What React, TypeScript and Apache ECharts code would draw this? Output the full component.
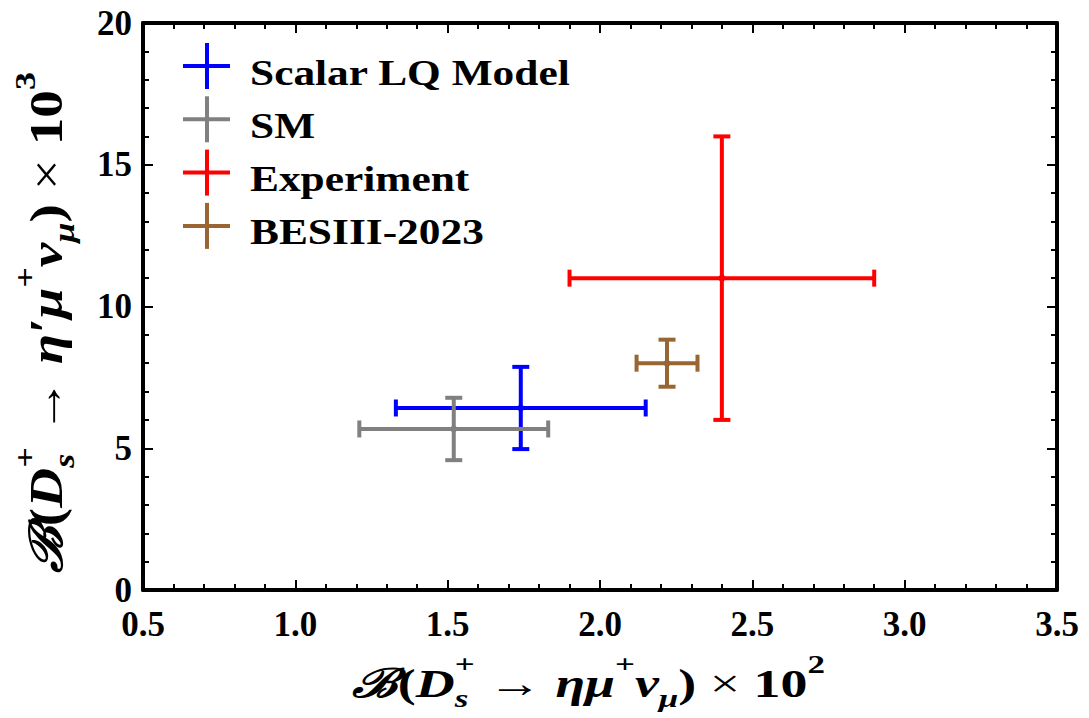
import React, { useEffect, useRef } from "react";
import * as echarts from "echarts";

// Series: name, central values and symmetric errors
const SERIES_NAMES = ["Scalar LQ Model", "SM", "Experiment", "BESIII-2023"];
const SERIES_COLORS = ["#0000ff", "#808080", "#ff0000", "#996633"];
const X_CENTER = [1.74, 1.52, 2.4, 2.22];
const X_ERROR = [0.41, 0.31, 0.5, 0.1];
const Y_CENTER = [6.42, 5.68, 11.0, 8.0];
const Y_ERROR = [1.45, 1.1, 5.0, 0.83];

// Axis ranges and tick spacing
const X_RANGE = [0.5, 3.5];
const X_STEP = 0.5;
const Y_RANGE = [0, 20];
const Y_STEP = 5;

const FAMILY = '"Liberation Serif", "Times New Roman", "DejaVu Serif", serif';

type Piece = {
  t: string;
  it?: boolean;
  w?: string;
  sup?: boolean;
  sub?: boolean;
  stack?: boolean;
};

const X_TITLE: Piece[] = [
  { t: "ℬ", it: true },
  { t: "(" },
  { t: "D", it: true },
  { t: "+", sup: true },
  { t: "s", it: true, sub: true, stack: true },
  { t: " → ", w: "normal" },
  { t: "ημ", it: true },
  { t: "+", sup: true },
  { t: "ν", it: true },
  { t: "μ", it: true, sub: true },
  { t: ") " },
  { t: "×", w: "normal" },
  { t: " 10" },
  { t: "2", sup: true },
];

const Y_TITLE: Piece[] = [
  { t: "ℬ", it: true },
  { t: "(" },
  { t: "D", it: true },
  { t: "+", sup: true },
  { t: "s", it: true, sub: true, stack: true },
  { t: " → ", w: "normal" },
  { t: "η′μ", it: true },
  { t: "+", sup: true },
  { t: "ν", it: true },
  { t: "μ", it: true, sub: true },
  { t: ") " },
  { t: "×", w: "normal" },
  { t: " 10" },
  { t: "3", sup: true },
];

// Lay out a formula as a run of text pieces at main font size m
function buildFormula(pieces: Piece[], m: number) {
  const ctx = document.createElement("canvas").getContext("2d")!;
  const small = Math.round(m * 0.66);
  const children: any[] = [];
  let cursor = 0;
  let lastStart = 0;
  let lastW = 0;
  for (const p of pieces) {
    const size = p.sup || p.sub ? small : m;
    const weight = p.w || "bold";
    ctx.font = `${p.it ? "italic " : ""}${weight} ${size}px ${FAMILY}`;
    const w = ctx.measureText(p.t).width;
    let x = cursor;
    if (p.stack) {
      x = lastStart;
      cursor = lastStart + Math.max(lastW, w);
    } else {
      cursor += w;
    }
    lastStart = x;
    lastW = w;
    const dy = p.sup ? -0.48 * m : p.sub ? 0.37 * m : 0;
    children.push({
      type: "text",
      x,
      y: dy,
      style: {
        text: p.t,
        fontFamily: FAMILY,
        fontSize: size,
        fontWeight: weight,
        fontStyle: p.it ? "italic" : "normal",
        fill: "#000",
        verticalAlign: "middle",
        align: "left",
      },
    });
  }
  return { children, width: cursor };
}

const axisCommon = {
  type: "value" as const,
  splitLine: { show: false },
  axisLine: { show: true, onZero: false, lineStyle: { color: "#000", width: 4 } },
  axisTick: { show: true, inside: true, length: 10, lineStyle: { color: "#000", width: 2 } },
  minorTick: { show: true, splitNumber: 5, length: 6, lineStyle: { color: "#000", width: 2 } },
};

const labelStyle = {
  fontFamily: FAMILY,
  fontSize: 35,
  lineHeight: 24,
  fontWeight: "bold" as const,
  color: "#000",
};

export default function App() {
  const ref = useRef<HTMLDivElement>(null);

  useEffect(() => {
    if (!ref.current) return;
    const chart = echarts.init(ref.current, null, { renderer: "svg" });

    const xt = buildFormula(X_TITLE, 40);
    const yt = buildFormula(Y_TITLE, 46);

    const legendItems = SERIES_NAMES.map((name, i) => {
      const ty = 73 + i * 53.3;
      const cy = ty - 7;
      return {
        type: "group",
        children: [
          { type: "line", shape: { x1: 183, y1: cy, x2: 230, y2: cy }, style: { stroke: SERIES_COLORS[i], lineWidth: 4 } },
          { type: "line", shape: { x1: 207, y1: cy - 23, x2: 207, y2: cy + 23 }, style: { stroke: SERIES_COLORS[i], lineWidth: 4 } },
          {
            type: "text",
            x: 250,
            y: ty,
            scaleX: 1.24,
            style: {
              text: name,
              fontFamily: FAMILY,
              fontSize: 35,
              fontWeight: "bold",
              fill: "#000",
              verticalAlign: "middle",
            },
          },
        ],
      };
    });

    const series = SERIES_NAMES.map((name, i) => ({
      name,
      type: "custom",
      xAxisIndex: 0,
      yAxisIndex: 0,
      data: [[X_CENTER[i], Y_CENTER[i], X_ERROR[i], Y_ERROR[i]]],
      renderItem: (params: any, api: any) => {
        const x = api.value(0);
        const y = api.value(1);
        const ex = api.value(2);
        const ey = api.value(3);
        const c = api.coord([x, y]);
        const l = api.coord([x - ex, y]);
        const r = api.coord([x + ex, y]);
        const t = api.coord([x, y + ey]);
        const b = api.coord([x, y - ey]);
        const cap = 8.5;
        const st = { stroke: SERIES_COLORS[i], lineWidth: 4 };
        return {
          type: "group",
          children: [
            { type: "line", shape: { x1: l[0], y1: l[1], x2: r[0], y2: r[1] }, style: st },
            { type: "line", shape: { x1: t[0], y1: t[1], x2: b[0], y2: b[1] }, style: st },
            { type: "line", shape: { x1: l[0], y1: l[1] - cap, x2: l[0], y2: l[1] + cap }, style: st },
            { type: "line", shape: { x1: r[0], y1: r[1] - cap, x2: r[0], y2: r[1] + cap }, style: st },
            { type: "line", shape: { x1: t[0] - cap, y1: t[1], x2: t[0] + cap, y2: t[1] }, style: st },
            { type: "line", shape: { x1: b[0] - cap, y1: b[1], x2: b[0] + cap, y2: b[1] }, style: st },
            { type: "circle", shape: { cx: c[0], cy: c[1], r: 3.5 }, style: { fill: SERIES_COLORS[i] } },
          ],
        };
      },
    }));

    chart.setOption({
      animation: false,
      backgroundColor: "#fff",
      grid: { left: 143, right: 32, top: 23, bottom: 128, containLabel: false },
      xAxis: [
        {
          ...axisCommon,
          position: "bottom",
          min: X_RANGE[0],
          max: X_RANGE[1],
          interval: X_STEP,
          axisLabel: { ...labelStyle, margin: 22, formatter: (v: number) => v.toFixed(1) },
        },
        {
          ...axisCommon,
          position: "top",
          min: X_RANGE[0],
          max: X_RANGE[1],
          interval: X_STEP,
          axisLabel: { show: false },
        },
      ],
      yAxis: [
        {
          ...axisCommon,
          position: "left",
          min: Y_RANGE[0],
          max: Y_RANGE[1],
          interval: Y_STEP,
          axisLabel: { ...labelStyle, margin: 11 },
        },
        {
          ...axisCommon,
          position: "right",
          min: Y_RANGE[0],
          max: Y_RANGE[1],
          interval: Y_STEP,
          axisLabel: { show: false },
        },
      ],
      series,
      graphic: [
        ...legendItems,
        { type: "group", x: 352, y: 684, scaleX: 473 / xt.width, children: xt.children },
        { type: "group", x: 47, y: 573, rotation: Math.PI / 2, scaleX: 501 / yt.width, children: yt.children },
      ],
    });

    return () => chart.dispose();
  }, []);

  return (
    <div
      ref={ref}
      style={{ position: "fixed", left: 0, top: 0, width: 1089, height: 718, background: "#fff" }}
    />
  );
}
